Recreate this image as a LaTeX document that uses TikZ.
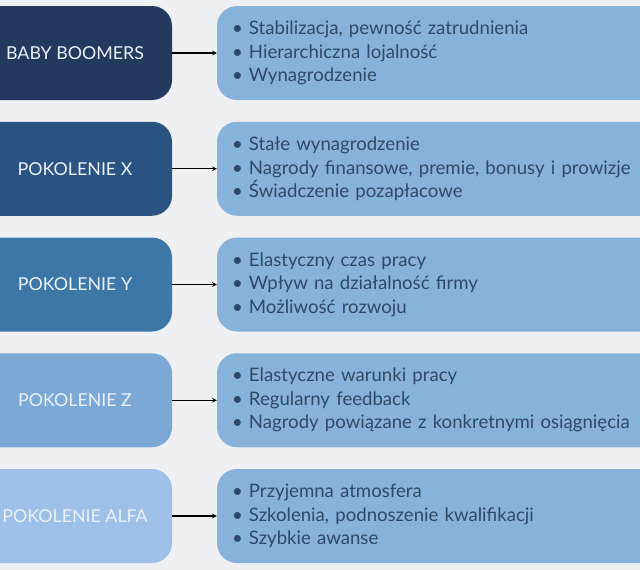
\documentclass[tikz,border=0pt]{standalone}
\usepackage{fontspec}
\setmainfont{Lato}
\usepackage{tikz}
\usetikzlibrary{positioning}
\usetikzlibrary{arrows}

\definecolor{tlo}{HTML}{EEF0F4}
\definecolor{gen1}{HTML}{233A5E}
\definecolor{gen2}{HTML}{2B5382}
\definecolor{gen3}{HTML}{3D77A8}
\definecolor{gen4}{HTML}{7BA8D4}
\definecolor{gen5}{HTML}{9DBFE8}
\definecolor{lista}{HTML}{87B2DA}
\definecolor{tekst}{HTML}{2F4968}
\definecolor{jasny}{HTML}{EAF1F8}

\begin{document}
\begin{tikzpicture}[x=1pt, y=-1pt, >=stealth]

\tikzset{%
    every gen/.style = {
        rounded corners=20pt,
        minimum width=194pt,
        minimum height=94pt,
        text=jasny,
        font=\fontsize{17.8}{20}\selectfont
    },
    every list/.style = {
        rounded corners=20pt,
        fill=lista,
        minimum height=94pt,
        text width=430pt,
        inner xsep=15pt,
        align=left,
        text=tekst,
        font=\fontsize{18.6}{23.5}\selectfont
    }
}

\useasboundingbox (0,0) rectangle (640,570);
\clip (0,0) rectangle (640,570);
\fill [tlo] (0,0) rectangle (640,570);

\foreach \l/\c [count=\y] in {BABY BOOMERS/gen1, POKOLENIE X/gen2,
    POKOLENIE Y/gen3, POKOLENIE Z/gen4, POKOLENIE ALFA/gen5}
  \node [every gen/.try, fill=\c] (gen-\y) at (75,{115.75*\y-62.75}) {\l};

\foreach \l [count=\y] in {
    {\textbullet\ Stabilizacja, pewność zatrudnienia\\
     \textbullet\ Hierarchiczna lojalność\\
     \textbullet\ Wynagrodzenie},
    {\textbullet\ Stałe wynagrodzenie\\
     \textbullet\ Nagrody finansowe, premie, bonusy i prowizje\\
     \textbullet\ Świadczenie pozapłacowe},
    {\textbullet\ Elastyczny czas pracy\\
     \textbullet\ Wpływ na działalność firmy\\
     \textbullet\ Możliwość rozwoju},
    {\textbullet\ Elastyczne warunki pracy\\
     \textbullet\ Regularny feedback\\
     \textbullet\ Nagrody powiązane z konkretnymi osiągnięcia},
    {\textbullet\ Przyjemna atmosfera\\
     \textbullet\ Szkolenia, podnoszenie kwalifikacji\\
     \textbullet\ Szybkie awanse}}
  \node [every list/.try] (list-\y) at (447,{115.75*\y-62.75}) {\l};

\foreach \y in {1,...,5}
  \draw [->, line width=1.1pt] (gen-\y) -- (list-\y);

\end{tikzpicture}
\end{document}
